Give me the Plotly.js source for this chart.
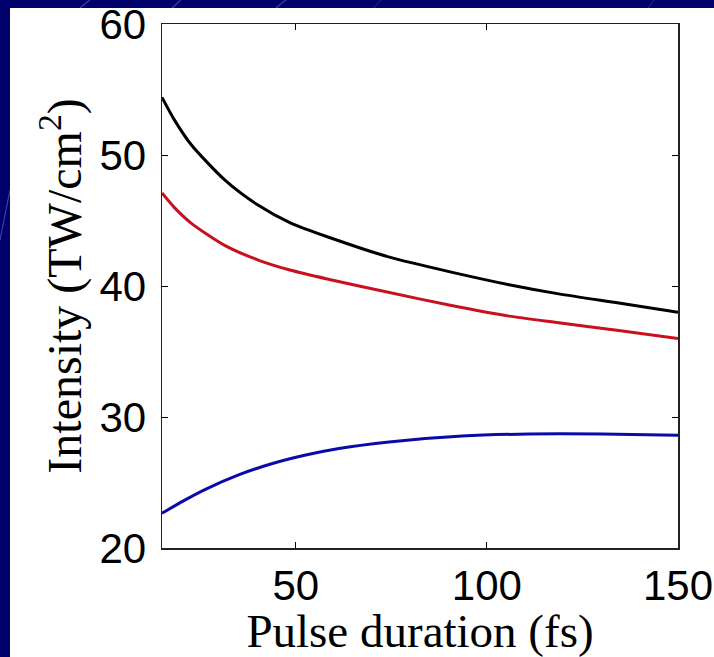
<!DOCTYPE html>
<html>
<head>
<meta charset="utf-8">
<script src="https://cdn.plot.ly/plotly-3.0.1.min.js"></script>
<style>
  html, body { margin: 0; padding: 0; width: 714px; height: 657px; overflow: hidden; background: #00006b; }
  #deco { position: absolute; left: 0; top: 0; }
  #panel { position: absolute; left: 10px; top: 8px; width: 704px; height: 649px; background: #ffffff; }
  #chart { position: absolute; left: 0; top: 0; width: 714px; height: 657px; }
</style>
</head>
<body>
<svg id="deco" width="714" height="657">
  <path d="M 80 8 Q 84 4 90 0" stroke="#4a5cc0" stroke-width="1.2" fill="none" opacity="0.7"/>
  <path d="M 172 8 Q 176 4 181 0" stroke="#4a5cc0" stroke-width="1.2" fill="none" opacity="0.7"/>
  <path d="M 276 8 Q 280 4 286 0" stroke="#4a5cc0" stroke-width="1.2" fill="none" opacity="0.7"/>
  <path d="M 374 8 Q 377 4 381 0" stroke="#4a5cc0" stroke-width="1" fill="none" opacity="0.5"/>
  <path d="M 648 8 Q 651 4 654 0" stroke="#4a5cc0" stroke-width="1" fill="none" opacity="0.5"/>
  <path d="M 10 190 Q 5 215 0 240" stroke="#4a5cc0" stroke-width="1.2" fill="none" opacity="0.7"/>
</svg>
<div id="panel"></div>
<div id="chart"></div>
<script>
// Pulse duration (fs)
const xBlack = [15, 18.2, 22.6, 31.4, 40.0, 48.7, 58.8, 74.5, 90.1, 105.8, 118.8, 134.5, 150];
const yBlack = [54.4, 52.7, 50.8, 48.1, 46.2, 44.8, 43.7, 42.2, 41.1, 40.1, 39.4, 38.7, 38.0];

const xRed = [15, 18.2, 22.6, 31.4, 40.0, 48.7, 58.8, 74.5, 90.1, 105.8, 118.8, 134.5, 150];
const yRed = [47.1, 46.0, 44.8, 43.1, 42.0, 41.2, 40.5, 39.5, 38.55, 37.7, 37.2, 36.6, 36.0];

const xBlue = [15, 20.6, 26.5, 35.2, 43.9, 52.6, 61.3, 74.4, 93.5, 111, 130, 150];
const yBlue = [22.65, 23.6, 24.5, 25.6, 26.45, 27.1, 27.6, 28.1, 28.55, 28.7, 28.7, 28.6];

const xTicks = [50, 100, 150];
const yTicks = [20, 30, 40, 50, 60];

const line = (x, y, color) => ({
  x: x, y: y, type: 'scatter', mode: 'lines',
  line: { color: color, width: 3, shape: 'spline', smoothing: 0.7 },
  hoverinfo: 'skip', showlegend: false
});

const data = [
  line(xBlack, yBlack, '#000000'),
  line(xRed, yRed, '#c8101e'),
  line(xBlue, yBlue, '#0a0aa8')
];

const layout = {
  width: 714, height: 657,
  margin: { l: 162, r: 36, t: 24, b: 109, pad: 0 },
  paper_bgcolor: 'rgba(0,0,0,0)',
  plot_bgcolor: '#ffffff',
  showlegend: false,
  xaxis: {
    range: [15, 150],
    tickvals: xTicks,
    ticktext: xTicks.map(String),
    ticks: 'inside', ticklen: 6, tickwidth: 1, tickcolor: '#000',
    showline: true, linecolor: '#222', linewidth: 1.5, mirror: 'allticks',
    showgrid: false, zeroline: false,
    tickfont: { family: 'Liberation Sans, Arial, sans-serif', size: 42, color: '#000' },
    ticklabelstandoff: 0,
    title: { text: 'Pulse duration (fs)', font: { family: 'Liberation Serif, Times New Roman, serif', size: 47, color: '#000' }, standoff: 0 }
  },
  yaxis: {
    range: [20, 60],
    tickvals: yTicks,
    ticktext: yTicks.map(String),
    ticks: 'inside', ticklen: 6, tickwidth: 1, tickcolor: '#000',
    showline: true, linecolor: '#222', linewidth: 1.5, mirror: 'allticks',
    showgrid: false, zeroline: false,
    tickfont: { family: 'Liberation Sans, Arial, sans-serif', size: 42, color: '#000' },
    ticklabelstandoff: 6,
    title: { text: 'Intensity (TW/cm<sup>2</sup>)', font: { family: 'Liberation Serif, Times New Roman, serif', size: 48, color: '#000' }, standoff: 2 }
  }
};

Plotly.newPlot('chart', data, layout, { staticPlot: true, displayModeBar: false });
</script>
</body>
</html>
